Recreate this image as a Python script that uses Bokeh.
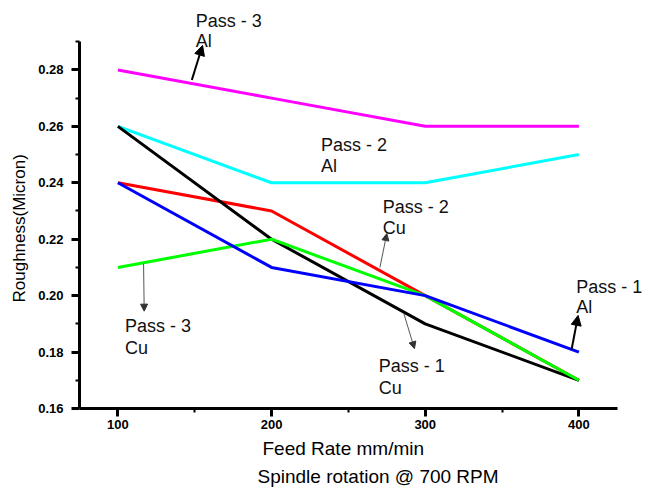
from bokeh.plotting import figure
from bokeh.models import Range1d, FixedTicker, PrintfTickFormatter, Label, Arrow, NormalHead, Title
from bokeh.embed import file_html
from bokeh.resources import INLINE

feed_rate = [100, 200, 300, 400]
pass3_al = [0.28, 0.27, 0.26, 0.26]
pass2_al = [0.26, 0.24, 0.24, 0.25]
pass2_cu = [0.24, 0.23, 0.20, 0.17]
pass1_cu = [0.26, 0.22, 0.19, 0.17]
pass1_al = [0.24, 0.21, 0.20, 0.18]
pass3_cu = [0.21, 0.22, 0.20, 0.17]

x_ticks = [100, 200, 300, 400]
x_minor = [150, 250, 350]
y_ticks = [0.16, 0.18, 0.20, 0.22, 0.24, 0.26, 0.28]
y_minor = [0.17, 0.19, 0.21, 0.23, 0.25, 0.27, 0.29]
x_bounds = (75, 425)
y_bounds = (0.16, 0.29)

FONT = "Liberation Sans"

p = figure(width=648, height=490, output_backend="svg", toolbar_location=None,
           x_range=Range1d(75, 445.3), y_range=Range1d(0.16, 0.3046),
           min_border_left=79, min_border_top=0, min_border_right=0, min_border_bottom=82)
p.outline_line_color = None
p.grid.visible = False
p.background_fill_color = "white"

series = [
    (pass3_al, "#FF00FF"),
    (pass2_al, "#00FFFF"),
    (pass2_cu, "#FF0000"),
    (pass1_cu, "#000000"),
    (pass3_cu, "#00FF00"),
    (pass1_al, "#0000FF"),
]
for ys, c in series:
    p.line(feed_rate, ys, line_color=c, line_width=3)

for ax in (p.xaxis[0], p.yaxis[0]):
    ax.axis_line_width = 3
    ax.axis_line_color = "black"
    ax.major_tick_line_width = 3
    ax.major_tick_out = 8
    ax.major_tick_in = 0
    ax.minor_tick_line_width = 2
    ax.minor_tick_out = 4
    ax.minor_tick_in = 0
    ax.major_label_text_font = FONT
    ax.major_label_text_font_style = "bold"
    ax.major_label_text_font_size = "13px"
    ax.major_label_text_color = "black"

p.xaxis.bounds = x_bounds
p.yaxis.bounds = y_bounds
p.xaxis.ticker = FixedTicker(ticks=x_ticks, minor_ticks=x_minor)
p.yaxis.ticker = FixedTicker(ticks=y_ticks, minor_ticks=y_minor)
p.yaxis.formatter = PrintfTickFormatter(format="%.2f")
p.xaxis.major_label_standoff = 3
p.yaxis.major_label_standoff = 8

p.add_layout(Title(text="Feed Rate mm/min", align="left", offset=183,
                   text_font=FONT, text_font_size="19px", text_font_style="normal",
                   text_color="black", standoff=8), "below")
p.add_layout(Title(text="Spindle rotation @ 700 RPM", align="left", offset=178,
                   text_font=FONT, text_font_size="19px", text_font_style="normal",
                   text_color="black", standoff=2), "below")
p.add_layout(Title(text="Roughness(Micron)", align="left", offset=106,
                   text_font=FONT, text_font_size="17px", text_font_style="normal",
                   text_color="black", standoff=14), "left")

# annotation texts: (x, y, text)
labels = [
    (150.7, 0.2972, "Pass - 3"), (150.7, 0.2901, "Al"),
    (232.1, 0.2533, "Pass - 2"), (232.1, 0.2458, "Al"),
    (272.4, 0.2313, "Pass - 2"), (272.4, 0.2238, "Cu"),
    (104.6, 0.1891, "Pass - 3"), (104.6, 0.1816, "Cu"),
    (269.8, 0.1749, "Pass - 1"), (269.8, 0.1674, "Cu"),
    (398.2, 0.2030, "Pass - 1"), (398.2, 0.1959, "Al"),
]
for x, y, t in labels:
    p.add_layout(Label(x=x, y=y, text=t, text_font=FONT, text_font_size="18px",
                       text_color="#111111", text_baseline="alphabetic"))

# arrows: (x0, y0, x1, y1, bold)
arrows = [
    (148.1, 0.2764, 155.1, 0.2887, True),
    (395.2, 0.1808, 399.5, 0.1930, True),
    (270.5, 0.2100, 275.0, 0.2220, False),
    (116.7, 0.2113, 117.1, 0.1945, False),
    (286.1, 0.1936, 293.0, 0.1812, False),
]
for x0, y0, x1, y1, bold in arrows:
    if bold:
        head = NormalHead(size=10, fill_color="black", line_color="black", line_width=1)
        p.add_layout(Arrow(end=head, x_start=x0, y_start=y0, x_end=x1, y_end=y1,
                           line_width=2, line_color="black"))
    else:
        head = NormalHead(size=7, fill_color="#333333", line_color="#333333", line_width=1)
        p.add_layout(Arrow(end=head, x_start=x0, y_start=y0, x_end=x1, y_end=y1,
                           line_width=1, line_color="#555555"))

open("out.html", "w").write(file_html(p, INLINE))
